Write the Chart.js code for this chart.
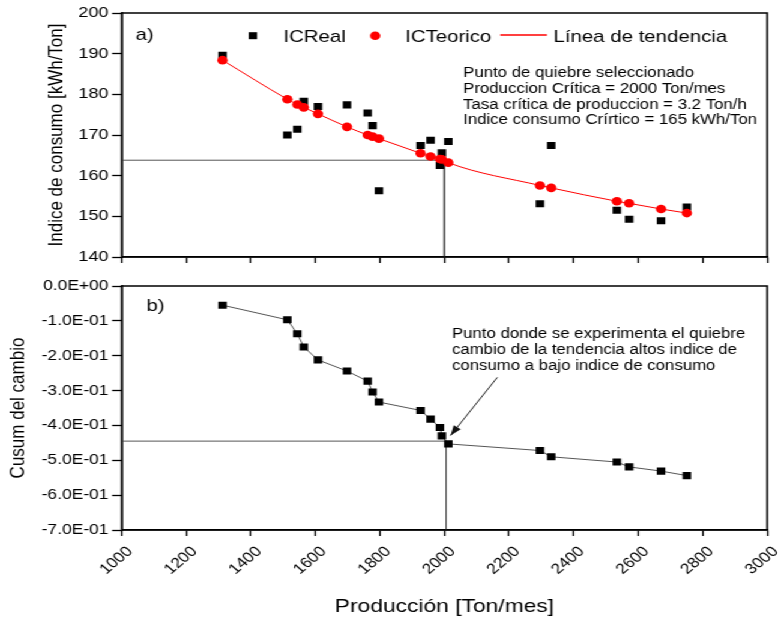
<!DOCTYPE html>
<html>
<head>
<meta charset="utf-8">
<script src="https://cdn.jsdelivr.net/npm/chart.js@4.4.1/dist/chart.umd.min.js"></script>
<style>
  html, body { margin: 0; padding: 0; background: #fff; overflow: hidden; }
  /* the original figure is stretched sideways, so the charts are drawn narrow and widened */
  #wrap { position: absolute; left: 0; top: 0; width: 648px; height: 619px;
          transform: scaleX(1.2006); transform-origin: 0 0; }
  #top { position: absolute; left: 0; top: 0; }
  #bottom { position: absolute; left: 0; top: 270px; }
</style>
</head>
<body>
<div id="wrap">
  <canvas id="top" width="648" height="270"></canvas>
  <canvas id="bottom" width="648" height="349"></canvas>
</div>
<script>
// data
const produccion = [1312, 1513, 1544, 1564, 1608, 1698, 1762, 1777, 1797, 1926,
                    1957, 1986, 1992, 2012, 2296, 2331, 2534, 2572, 2671, 2751]
const ic_real = [189.6, 170.0, 171.4, 178.3, 177.0, 177.4, 175.4, 172.3, 156.3, 167.4,
                 168.7, 162.5, 165.6, 168.4, 153.1, 167.4, 151.5, 149.3, 148.9, 152.3]
const ic_teorico = [188.4, 178.8, 177.5, 176.8, 175.2, 172.0, 170.0, 169.6, 169.1, 165.5,
                    164.7, 164.1, 164.0, 163.2, 157.6, 157.0, 153.7, 153.2, 151.8, 150.8]
const cusum = [-0.055, -0.097, -0.137, -0.175, -0.212, -0.244, -0.273, -0.304, -0.333, -0.357,
               -0.382, -0.406, -0.430, -0.453, -0.472, -0.490, -0.505, -0.519, -0.531, -0.544]

const x_ticks = [1000, 1200, 1400, 1600, 1800, 2000, 2200, 2400, 2600, 2800, 3000]
const ic_ticks = [140, 150, 160, 170, 180, 190, 200]
const cusum_ticks = [0, -0.1, -0.2, -0.3, -0.4, -0.5, -0.6, -0.7]

// guide lines at the break point, and the arrow in panel b
const quiebre_x_top = [1000, 2000, 2000]
const quiebre_y_top = [163.8, 163.8, 140]
const quiebre_x_bot = [1000, 2005, 2005]
const quiebre_y_bot = [-0.445, -0.445, -0.7]
const flecha_x = [2164, 2019]
const flecha_y = [-0.262, -0.429]

const FONT = '"Liberation Sans", Arial, sans-serif'
Chart.defaults.font.family = FONT
Chart.defaults.color = '#000'

const pts = (xs, ys) => xs.map((x, i) => ({x: x, y: ys[i]}))

const sci = (v) => {
  if (Math.abs(v) < 1e-9) return '0.0E+00'
  let [m, e] = v.toExponential(1).split('e')
  let n = parseInt(e)
  return m + 'E' + (n < 0 ? '-' : '+') + String(Math.abs(n)).padStart(2, '0')
}

const tickGrid = (len) => ({
  display: true, drawOnChartArea: false, drawTicks: true,
  tickLength: len, tickColor: '#000', tickWidth: 1.3
})
const axisBorder = {display: true, color: '#000', width: 1.5}

const frame = {
  id: 'frame',
  afterDraw(chart) {
    const {ctx, chartArea: a} = chart
    ctx.save()
    ctx.strokeStyle = '#000'
    ctx.lineWidth = 1.5
    ctx.strokeRect(a.left, a.top, a.right - a.left, a.bottom - a.top)
    ctx.restore()
  }
}

const topTexts = {
  id: 'topTexts',
  afterDraw(chart) {
    const ctx = chart.ctx
    ctx.save()
    ctx.fillStyle = '#000'
    ctx.textBaseline = 'alphabetic'
    ctx.font = '17px ' + FONT
    ctx.fillText('a)', 113, 40)
    // legend
    ctx.fillRect(207.1, 32.2, 7, 7)
    ctx.fillText('ICReal', 236, 41.5)
    ctx.fillStyle = '#ff0000'
    ctx.beginPath()
    ctx.arc(312.5, 35.7, 4.3, 0, Math.PI * 2)
    ctx.fill()
    ctx.fillStyle = '#000'
    ctx.fillText('ICTeorico', 337.5, 41.5)
    ctx.strokeStyle = '#ff0000'
    ctx.lineWidth = 1.3
    ctx.beginPath()
    ctx.moveTo(416.7, 35)
    ctx.lineTo(455.6, 35)
    ctx.stroke()
    ctx.fillText('Línea de tendencia', 461, 41.5)
    // note
    ctx.font = '14px ' + FONT
    ctx.fillText('Punto de quiebre seleccionado', 385.8, 76.7)
    ctx.fillText('Produccion Crítica = 2000 Ton/mes', 385.8, 92.7)
    ctx.fillText('Tasa crítica de produccion = 3.2 Ton/h', 385.8, 108.7)
    ctx.fillText('Indice consumo Crírtico = 165 kWh/Ton', 385.8, 124.3)
    ctx.restore()
  }
}

const bottomTexts = {
  id: 'bottomTexts',
  afterDraw(chart) {
    const ctx = chart.ctx
    ctx.save()
    ctx.fillStyle = '#000'
    ctx.textBaseline = 'alphabetic'
    ctx.font = '17px ' + FONT
    ctx.fillText('b)', 122, 40.7)
    ctx.font = '14px ' + FONT
    ctx.fillText('Punto donde se experimenta el quiebre', 376.4, 68)
    ctx.fillText('cambio de la tendencia altos indice de', 376.4, 84)
    ctx.fillText('consumo a bajo indice de consumo', 376.4, 100)
    ctx.restore()
  }
}

const arrowHead = {
  id: 'arrowHead',
  afterDatasetsDraw(chart) {
    const {ctx, scales: {x, y}} = chart
    const x0 = x.getPixelForValue(flecha_x[0]), y0 = y.getPixelForValue(flecha_y[0])
    const x1 = x.getPixelForValue(flecha_x[1]), y1 = y.getPixelForValue(flecha_y[1])
    const a = Math.atan2(y1 - y0, x1 - x0)
    const L = 10, W = 3.5
    ctx.save()
    ctx.fillStyle = '#111'
    ctx.beginPath()
    ctx.moveTo(x1, y1)
    ctx.lineTo(x1 - L * Math.cos(a) + W * Math.sin(a), y1 - L * Math.sin(a) - W * Math.cos(a))
    ctx.lineTo(x1 - L * Math.cos(a) - W * Math.sin(a), y1 - L * Math.sin(a) + W * Math.cos(a))
    ctx.closePath()
    ctx.fill()
    ctx.restore()
  }
}

// keep both panels on the exact same x mapping
const fixX = (h) => (s) => { s.height = h; s.paddingLeft = 0; s.paddingRight = 0 }

const common = {
  responsive: false,
  animation: false,
  devicePixelRatio: 1,
  plugins: {legend: {display: false}, tooltip: {enabled: false}}
}

new Chart(document.getElementById('top'), {
  type: 'scatter',
  data: {
    datasets: [
      {label: 'ICTeorico', data: pts(produccion, ic_teorico), pointStyle: 'circle',
       pointRadius: 4.3, backgroundColor: '#ff0000', borderWidth: 0, showLine: false},
      {label: 'Línea de tendencia', data: pts(produccion, ic_teorico), showLine: true,
       pointRadius: 0, borderColor: '#ff0000', borderWidth: 1, cubicInterpolationMode: 'monotone'},
      {label: 'ICReal', data: pts(produccion, ic_real), pointStyle: 'rect',
       pointRadius: 5, backgroundColor: '#000', borderWidth: 0, showLine: false},
      {label: 'quiebre', data: pts(quiebre_x_top, quiebre_y_top), showLine: true,
       pointRadius: 0, borderColor: '#555', borderWidth: 1}
    ]
  },
  options: Object.assign({}, common, {
    layout: {padding: {left: 0, right: 9, top: 13, bottom: 0}},
    scales: {
      x: {
        type: 'linear', min: 1000, max: 3000,
        afterBuildTicks: s => { s.ticks = x_ticks.map(v => ({value: v})) },
        afterFit: fixX(13),
        ticks: {display: false},
        grid: tickGrid(6),
        border: axisBorder
      },
      y: {
        type: 'linear', min: 140, max: 200,
        afterBuildTicks: s => { s.ticks = ic_ticks.map(v => ({value: v})) },
        afterFit: s => { s.width = 101.4 },
        ticks: {font: {size: 15}, padding: 3, color: '#000'},
        grid: tickGrid(8),
        border: axisBorder,
        title: {display: true, text: 'Indice de consumo [kWh/Ton]', font: {size: 17},
                color: '#000', padding: {top: 37, bottom: 0}}
      }
    }
  }),
  plugins: [frame, topTexts]
})

new Chart(document.getElementById('bottom'), {
  type: 'scatter',
  data: {
    datasets: [
      {label: 'Cusum', data: pts(produccion, cusum), showLine: true, pointStyle: 'rect',
       pointRadius: 5, backgroundColor: '#000', pointBorderWidth: 0,
       borderColor: '#555', borderWidth: 1},
      {label: 'flecha', data: pts(flecha_x, flecha_y), showLine: true,
       pointRadius: 0, borderColor: '#222', borderWidth: 1},
      {label: 'quiebre', data: pts(quiebre_x_bot, quiebre_y_bot), showLine: true,
       pointRadius: 0, borderColor: '#555', borderWidth: 1}
    ]
  },
  options: Object.assign({}, common, {
    layout: {padding: {left: 0, right: 9, top: 16, bottom: 0}},
    scales: {
      x: {
        type: 'linear', min: 1000, max: 3000,
        afterBuildTicks: s => { s.ticks = x_ticks.map(v => ({value: v})) },
        afterFit: fixX(89),
        ticks: {font: {size: 14.5}, minRotation: 45, maxRotation: 45, autoSkip: false,
                padding: 7, labelOffset: 7, color: '#000', callback: v => String(v)},
        grid: tickGrid(6),
        border: axisBorder,
        title: {display: true, text: 'Producción [Ton/mes]', font: {size: 19},
                color: '#000', padding: {top: 0, bottom: 1}}
      },
      y: {
        type: 'linear', min: -0.7, max: 0,
        afterBuildTicks: s => { s.ticks = cusum_ticks.map(v => ({value: v})) },
        afterFit: s => { s.width = 101.4 },
        ticks: {font: {size: 14.5}, padding: 3, color: '#000', callback: v => sci(v)},
        grid: tickGrid(8),
        border: axisBorder,
        title: {display: true, text: 'Cusum del cambio', font: {size: 17},
                color: '#000', padding: {top: 5, bottom: 0}}
      }
    }
  }),
  plugins: [frame, bottomTexts, arrowHead]
})
</script>
</body>
</html>
